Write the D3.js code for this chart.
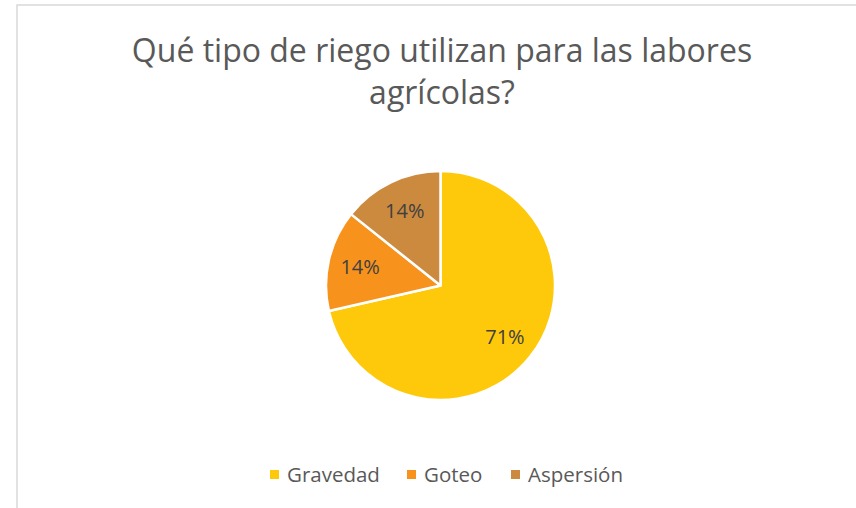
<!DOCTYPE html>
<html>
<head>
<meta charset="utf-8">
<script src="https://cdn.jsdelivr.net/npm/d3@7"></script>
<style>
  html, body { margin: 0; padding: 0; background: #ffffff; }
  svg { display: block; }
  text { font-family: "Open Sans", "Noto Sans", sans-serif; }
</style>
</head>
<body>
<svg id="chart" width="856" height="508"></svg>
<script>
// Irrigation types and their counts
const categories = ["Gravedad", "Goteo", "Aspersión"];
const counts = [5, 1, 1];
const colors = ["#FFC90B", "#F7931D", "#CC8A3E"];
const titleLines = ["Qué tipo de riego utilizan para las labores", "agrícolas?"];

const width = 856, height = 508;
const svg = d3.select("#chart");

// Chart area frame
svg.append("rect")
  .attr("x", 17).attr("y", 5)
  .attr("width", width + 20).attr("height", height + 20)
  .attr("fill", "#ffffff")
  .attr("stroke", "#d9d9d9")
  .attr("stroke-width", 1.5);

// Title
const title = svg.append("text")
  .attr("text-anchor", "middle")
  .attr("fill", "#595959")
  .attr("font-size", 32);
title.selectAll("tspan")
  .data(titleLines)
  .join("tspan")
  .attr("x", 442)
  .attr("y", (d, i) => 62 + i * 42)
  .text(d => d);

// Pie
const cx = 440.5, cy = 285.5, r = 114.5;
const total = d3.sum(counts);
const pie = d3.pie().sort(null).value(d => d.value);
const arcs = pie(categories.map((c, i) => ({ name: c, value: counts[i], color: colors[i] })));
const arc = d3.arc().innerRadius(0).outerRadius(r);
const labelArc = d3.arc().innerRadius(r * 0.72).outerRadius(r * 0.72);
const pct = d3.format(".0%");

const g = svg.append("g").attr("transform", `translate(${cx},${cy})`);
g.selectAll("path")
  .data(arcs)
  .join("path")
  .attr("d", arc)
  .attr("fill", d => d.data.color)
  .attr("stroke", "#ffffff")
  .attr("stroke-width", 2.5)
  .attr("stroke-linejoin", "round");

g.selectAll("text.lbl")
  .data(arcs)
  .join("text")
  .attr("class", "lbl")
  .attr("transform", d => `translate(${labelArc.centroid(d)})`)
  .attr("text-anchor", "middle")
  .attr("dy", "0.35em")
  .attr("fill", "#404040")
  .attr("font-size", 20)
  .text(d => pct(d.data.value / total));

// Legend
const legendX = [270, 407, 511];
const lg = svg.append("g");
const items = lg.selectAll("g")
  .data(categories)
  .join("g")
  .attr("transform", (d, i) => `translate(${legendX[i]},0)`);
items.append("rect")
  .attr("x", 0).attr("y", 470)
  .attr("width", 9).attr("height", 9)
  .attr("fill", (d, i) => colors[i]);
items.append("text")
  .attr("x", 17).attr("y", 482)
  .attr("fill", "#595959")
  .attr("font-size", 20.5)
  .text(d => d);
</script>
</body>
</html>
